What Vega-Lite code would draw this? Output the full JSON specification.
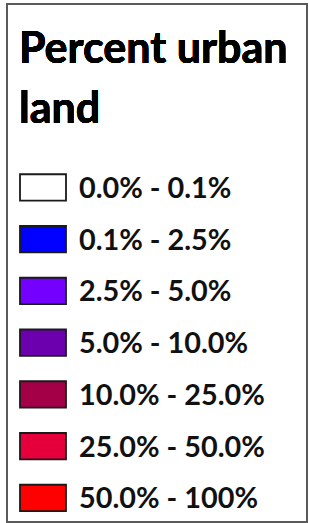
{
  "$schema": "https://vega.github.io/schema/vega-lite/v6.json",
  "autosize": {"type": "fit", "contains": "padding"},
  "width": 309,
  "height": 523,
  "padding": {"left": 7, "top": 4, "right": 2, "bottom": 1},
  "background": "white",
  "config": {"view": {"stroke": "#5a5a5a", "strokeWidth": 2}},
  "data": {"values": [
    {"i": 0, "range": "0.0% - 0.1%"},
    {"i": 1, "range": "0.1% - 2.5%"},
    {"i": 2, "range": "2.5% - 5.0%"},
    {"i": 3, "range": "5.0% - 10.0%"},
    {"i": 4, "range": "10.0% - 25.0%"},
    {"i": 5, "range": "25.0% - 50.0%"},
    {"i": 6, "range": "50.0% - 100%"}
  ]},
  "encoding": {
    "y": {"field": "i", "type": "quantitative", "axis": null,
          "scale": {"domain": [-3.546, 6.464], "reverse": true, "nice": false, "zero": false}}
  },
  "layer": [
    {
      "mark": {"type": "point", "filled": true, "shape": "M-1,-0.575H1V0.575H-1Z", "size": 2116,
               "stroke": "#1a1a1a", "strokeWidth": 1.8, "opacity": 1},
      "encoding": {
        "x": {"value": 36},
        "fill": {"field": "range", "type": "nominal", "legend": null,
                 "scale": {"domain": ["0.0% - 0.1%", "0.1% - 2.5%", "2.5% - 5.0%", "5.0% - 10.0%", "10.0% - 25.0%", "25.0% - 50.0%", "50.0% - 100%"],
                           "range": ["#ffffff", "#0000ff", "#7400ff", "#6c00ae", "#a30048", "#e5003c", "#ff0000"]}}
      }
    },
    {
      "mark": {"type": "text", "align": "left", "baseline": "alphabetic", "dy": 10.5,
               "font": "Lato", "fontWeight": "bold", "fontSize": 28.8, "fill": "#111111"},
      "encoding": {
        "x": {"value": 72},
        "text": {"field": "range", "type": "nominal"}
      }
    },
    {
      "mark": {"type": "text", "align": "left", "baseline": "alphabetic",
               "text": ["Percent urban", "land"], "lineHeight": 60,
               "font": "Lato", "fontWeight": "bold", "fontSize": 43, "fill": "#000000"},
      "encoding": {
        "x": {"value": 12},
        "y": {"datum": -2.4058, "type": "quantitative"}
      }
    }
  ]
}
